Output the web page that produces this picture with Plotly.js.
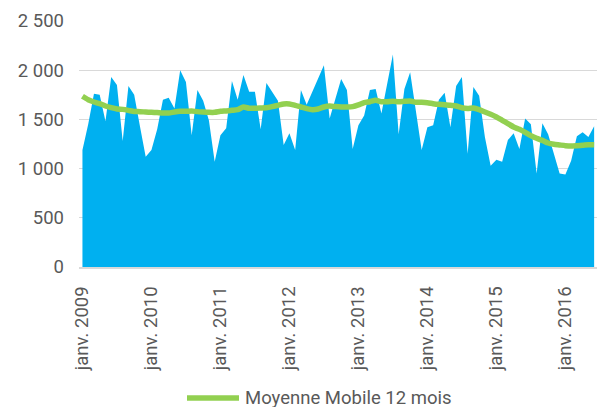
<!DOCTYPE html>
<html>
<head>
<meta charset="utf-8">
<script src="https://cdn.plot.ly/plotly-3.0.1.min.js"></script>
<style>
  html, body { margin: 0; padding: 0; background: #ffffff; }
  #chart { width: 597px; height: 407px; }
</style>
</head>
<body>
<div id="chart"></div>
<script>
// Monthly values, janv. 2009 -> juin 2016
const monthlyValues = [
  1190, 1450, 1760, 1750, 1480, 1930, 1850, 1280, 1840, 1750, 1430, 1120,
  1190, 1400, 1700, 1720, 1610, 2000, 1880, 1340, 1800, 1690, 1490, 1070,
  1340, 1410, 1890, 1700, 1950, 1780, 1780, 1400, 1870, 1780, 1690, 1240,
  1360, 1190, 1800, 1650, 1780, 1920, 2050, 1510, 1720, 1910, 1800, 1200,
  1440, 1540, 1800, 1810, 1560, 1850, 2160, 1350, 1810, 1980, 1590, 1190,
  1420, 1440, 1700, 1770, 1420, 1840, 1930, 1150, 1830, 1740, 1320, 1030,
  1090, 1070, 1290, 1360, 1200, 1510, 1450, 950, 1460, 1350, 1150, 950,
  940, 1080, 1330, 1370, 1320, 1430
];

// 12-month moving average as drawn
const movingAverage = [
  1735, 1700, 1677, 1660, 1636, 1619, 1606, 1602, 1592, 1580, 1579, 1575,
  1572, 1569, 1565, 1565, 1575, 1582, 1582, 1586, 1579, 1575, 1572, 1572,
  1582, 1586, 1592, 1599, 1626, 1613, 1613, 1616, 1619, 1630, 1643, 1657,
  1657, 1643, 1626, 1609, 1599, 1606, 1626, 1636, 1630, 1626, 1626, 1630,
  1647, 1670, 1680, 1694, 1680, 1680, 1684, 1680, 1684, 1687, 1674, 1674,
  1670, 1660, 1653, 1650, 1643, 1636, 1619, 1612, 1616, 1599, 1575, 1552,
  1525, 1491, 1457, 1423, 1399, 1369, 1335, 1308, 1287, 1260, 1247, 1240,
  1233, 1230, 1233, 1237, 1243, 1243
];

const tickLabels = [
  'janv. 2009', 'janv. 2010', 'janv. 2011', 'janv. 2012',
  'janv. 2013', 'janv. 2014', 'janv. 2015', 'janv. 2016'
];

const legendLabel = 'Moyenne Mobile 12 mois';

const monthIndex = monthlyValues.map((_, i) => i);
const tickPositions = tickLabels.map((_, k) => k * 12);

const fontFamily = 'Roboto, "Open Sans", sans-serif';
const textColor = '#595959';

const traces = [
  {
    type: 'scatter',
    mode: 'lines',
    x: monthIndex,
    y: monthlyValues,
    fill: 'tozeroy',
    fillcolor: '#00B0F0',
    line: { width: 0, color: '#00B0F0' },
    hoverinfo: 'y',
    showlegend: false,
    name: 'Valeurs'
  },
  {
    type: 'scatter',
    mode: 'lines',
    x: monthIndex,
    y: movingAverage,
    line: { width: 5.5, color: '#92D050', shape: 'spline', smoothing: 0.6 },
    showlegend: false,
    name: legendLabel
  }
];

const W = 597, L = 79, R = 0, T = 21, B = 140;
const plotW = W - L - R, plotH = 407 - T - B;
const px2x = p => (p - L) / plotW;
const py2y = p => (407 - B - p) / plotH;

const layout = {
  width: 597,
  height: 407,
  margin: { l: L, r: R, t: T, b: B, pad: 0 },
  paper_bgcolor: '#ffffff',
  plot_bgcolor: '#ffffff',
  separators: ', ',
  font: { family: fontFamily, size: 18.5, color: textColor },
  showlegend: false,
  xaxis: {
    range: [-0.6, 89.5],
    tickmode: 'array',
    tickvals: tickPositions,
    ticktext: tickLabels,
    tickangle: -90,
    ticks: '',
    showgrid: false,
    zeroline: false,
    showline: true,
    linecolor: '#D9D9D9',
    linewidth: 2,
    ticklabelstandoff: 10,
    tickfont: { family: fontFamily, size: 18.5, color: textColor },
    fixedrange: true
  },
  yaxis: {
    range: [0, 2500],
    tick0: 0,
    dtick: 500,
    tickformat: ',d',
    ticks: '',
    showgrid: true,
    gridcolor: '#D9D9D9',
    gridwidth: 1.3,
    zeroline: false,
    showline: false,
    ticklabelstandoff: 14,
    tickfont: { family: fontFamily, size: 18.5, color: textColor },
    fixedrange: true
  },
  shapes: [
    {
      type: 'line',
      xref: 'paper', yref: 'paper',
      x0: px2x(187), x1: px2x(239),
      y0: py2y(398), y1: py2y(398),
      line: { color: '#92D050', width: 5.5 }
    }
  ],
  annotations: [
    {
      xref: 'paper', yref: 'paper',
      x: px2x(243), y: py2y(398),
      xanchor: 'left', yanchor: 'middle',
      showarrow: false,
      text: legendLabel,
      font: { family: fontFamily, size: 18.5, color: textColor }
    }
  ]
};

Plotly.newPlot('chart', traces, layout, { displayModeBar: false, staticPlot: true });
</script>
</body>
</html>
